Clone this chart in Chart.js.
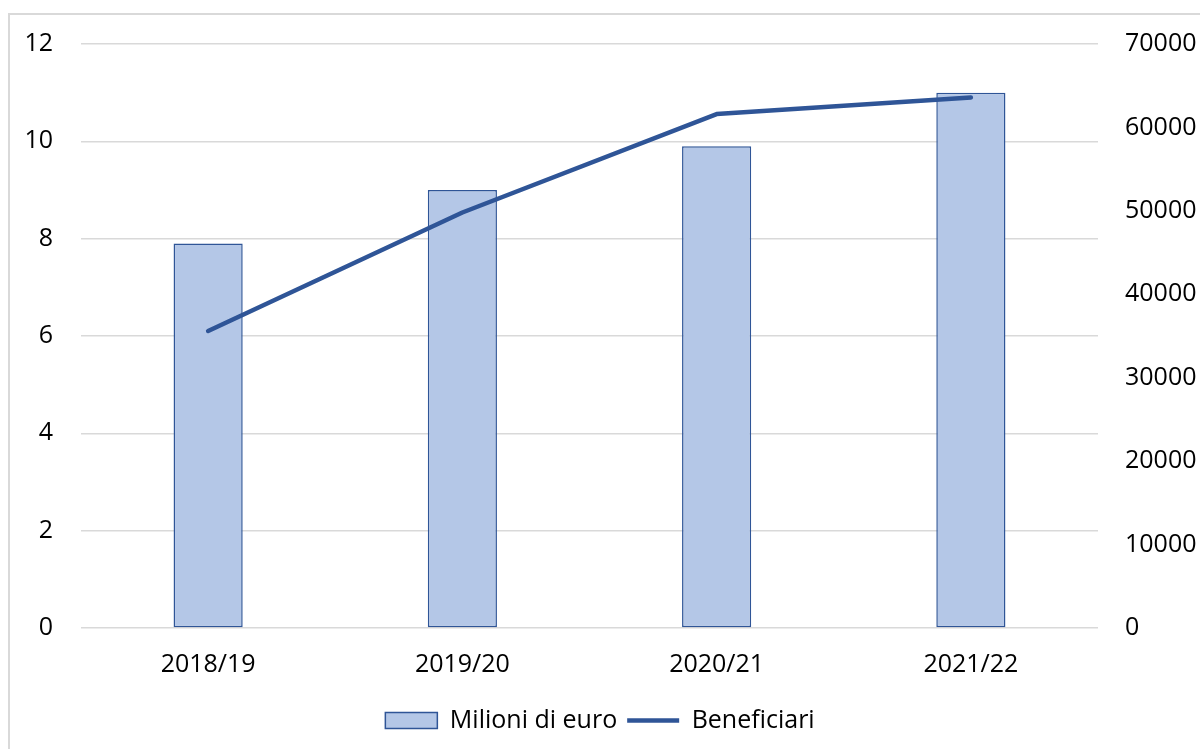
<!DOCTYPE html>
<html lang="it">
<head>
<meta charset="utf-8">
<title>Milioni di euro e beneficiari</title>
<script src="https://cdn.jsdelivr.net/npm/chart.js@4/dist/chart.umd.min.js"></script>
<style>
  html, body { margin: 0; padding: 0; background: #fff; overflow: hidden; }
  #wrap { position: relative; width: 1200px; height: 749px; overflow: hidden; }
  #frame { position: absolute; left: 8px; top: 13px; width: 1300px; height: 800px;
           border: 2px solid #D9D9D9; box-sizing: border-box; }
  #chart { position: absolute; left: 0; top: 0; }
</style>
</head>
<body>
<div id="wrap">
  <div id="frame"></div>
  <canvas id="chart" width="1200" height="749"></canvas>
</div>
<script>
// --- Données ---
const anni = ['2018/19', '2019/20', '2020/21', '2021/22'];
const milioniEuro = [7.9, 9.0, 9.9, 11.0];
const beneficiari = [35600, 49800, 61600, 63600];

const fontFamily = "'Open Sans', 'Noto Sans', sans-serif";
const fontSize = 25;
const testo = '#000000';
const griglia = '#D9D9D9';
const blu = '#2F5597';
const bluChiaro = '#B4C7E7';

const ctx = document.getElementById('chart').getContext('2d');

new Chart(ctx, {
    type: 'bar',
    data: {
        labels: anni,
        datasets: [
            {
                type: 'line',
                label: 'Beneficiari',
                data: beneficiari,
                yAxisID: 'yDestra',
                borderColor: blu,
                backgroundColor: blu,
                borderWidth: 4.5,
                borderCapStyle: 'round',
                borderJoinStyle: 'round',
                pointRadius: 0,
                pointHoverRadius: 0,
                tension: 0,
                pointStyle: 'line',
                order: 0
            },
            {
                type: 'bar',
                label: 'Milioni di euro',
                data: milioniEuro,
                yAxisID: 'ySinistra',
                backgroundColor: bluChiaro,
                borderColor: blu,
                borderWidth: 1.5,
                borderSkipped: false,
                categoryPercentage: 1,
                barPercentage: 0.272,
                pointStyle: 'rect',
                order: 1
            }
        ]
    },
    options: {
        responsive: false,
        animation: false,
        layout: { padding: { top: 44, bottom: 6, left: 0, right: 0 } },
        scales: {
            x: {
                grid: { display: false },
                border: { display: false },
                ticks: { color: testo, font: { family: fontFamily, size: fontSize }, padding: 14 },
                afterFit: scale => { scale.height = 70; }
            },
            ySinistra: {
                position: 'left',
                min: 0,
                max: 12,
                ticks: { stepSize: 2, color: testo, font: { family: fontFamily, size: fontSize }, padding: 28 },
                grid: { color: griglia, lineWidth: 1.5, drawTicks: false },
                border: { display: false },
                afterFit: scale => { scale.width = 81; }
            },
            yDestra: {
                position: 'right',
                min: 0,
                max: 70000,
                ticks: {
                    stepSize: 10000,
                    color: testo,
                    font: { family: fontFamily, size: fontSize },
                    padding: 27,
                    callback: value => String(value) // pas de séparateur de milliers
                },
                grid: { display: false, drawTicks: false },
                border: { display: false },
                afterFit: scale => { scale.width = 102; }
            }
        },
        plugins: {
            legend: {
                display: true,
                position: 'bottom',
                reverse: true,
                labels: {
                    color: testo,
                    font: { family: fontFamily, size: fontSize },
                    usePointStyle: true,
                    pointStyleWidth: 52,
                    boxHeight: 16,
                    padding: 10
                }
            },
            tooltip: { enabled: false }
        }
    }
});
</script>
</body>
</html>
